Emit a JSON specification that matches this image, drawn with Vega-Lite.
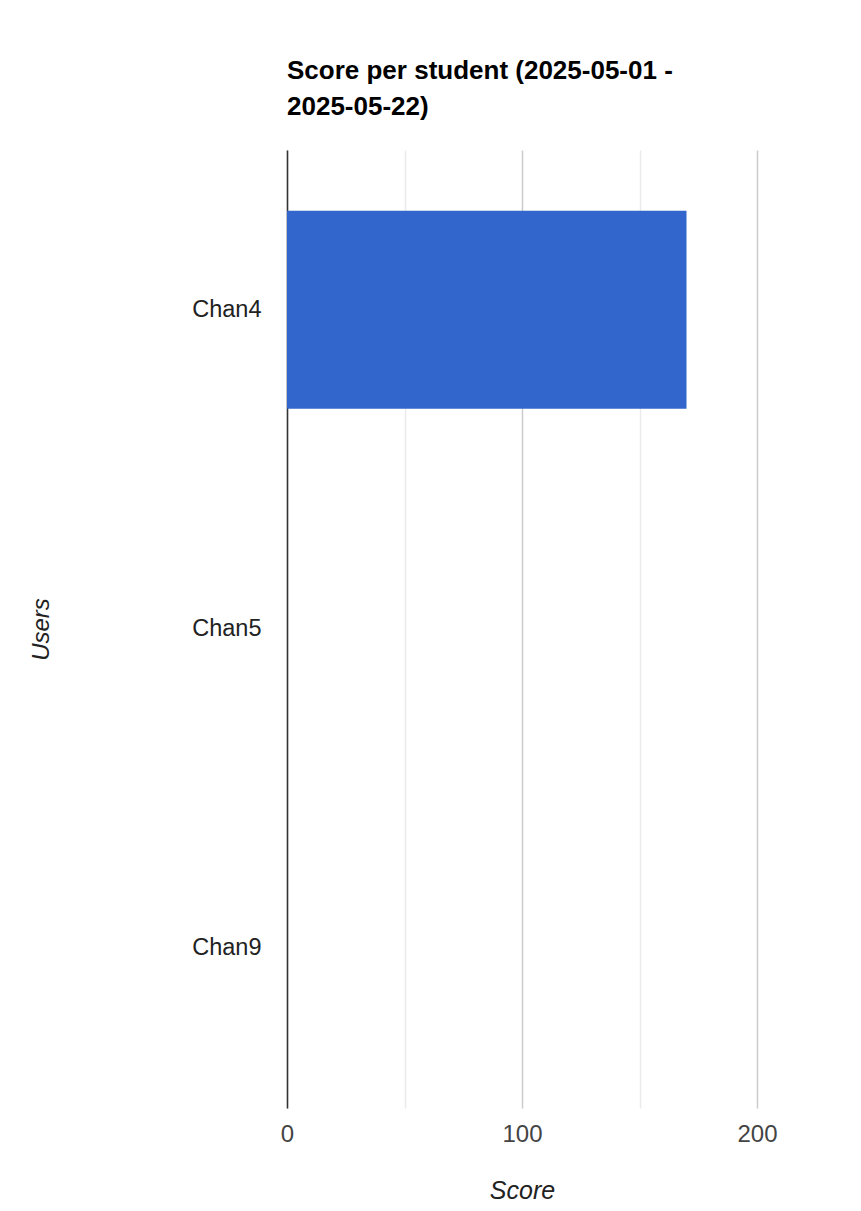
{
  "$schema": "https://vega.github.io/schema/vega-lite/v6.json",
  "autosize": "none",
  "padding": {"left": 287, "top": 150, "right": 104, "bottom": 103},
  "width": 470,
  "height": 958,
  "background": "white",
  "title": {
    "text": ["Score per student (2025-05-01 -", "2025-05-22)"],
    "anchor": "start",
    "frame": "group",
    "font": "Liberation Sans",
    "fontSize": 26,
    "fontWeight": "bold",
    "color": "#000000",
    "lineHeight": 36,
    "offset": 30
  },
  "data": {
    "values": [
      {"user": "Chan4", "score": 170},
      {"user": "Chan5", "score": 0},
      {"user": "Chan9", "score": 0}
    ]
  },
  "mark": {"type": "bar", "color": "#3366cc"},
  "encoding": {
    "y": {
      "field": "user",
      "type": "nominal",
      "sort": null,
      "title": "Users",
      "scale": {"paddingInner": 0.38, "paddingOuter": 0.19},
      "axis": {
        "ticks": false,
        "grid": false,
        "domain": true,
        "domainColor": "#333333",
        "domainWidth": 1.5,
        "labelFont": "Liberation Sans",
        "labelFontSize": 23.5,
        "labelColor": "#222222",
        "labelPadding": 26,
        "titleFont": "Liberation Sans",
        "titleFontSize": 24,
        "titleFontStyle": "italic",
        "titleFontWeight": "normal",
        "titleColor": "#222222",
        "titleX": -234
      }
    },
    "x": {
      "field": "score",
      "type": "quantitative",
      "title": "Score",
      "scale": {"domain": [0, 200], "nice": false},
      "axis": {
        "values": [0, 50, 100, 150, 200],
        "labelExpr": "datum.value % 100 === 0 ? datum.label : ''",
        "labelFlush": false,
        "ticks": false,
        "domain": false,
        "grid": true,
        "gridColor": {
          "condition": {"test": "datum.value % 100 === 0", "value": "#cccccc"},
          "value": "#ebebeb"
        },
        "gridWidth": 1.5,
        "labelFont": "Liberation Sans",
        "labelFontSize": 24,
        "labelColor": "#444444",
        "labelPadding": 14,
        "titleFont": "Liberation Sans",
        "titleFontSize": 25,
        "titleFontStyle": "italic",
        "titleFontWeight": "normal",
        "titleColor": "#222222",
        "titlePadding": 32
      }
    }
  },
  "config": {
    "view": {"stroke": null}
  }
}
